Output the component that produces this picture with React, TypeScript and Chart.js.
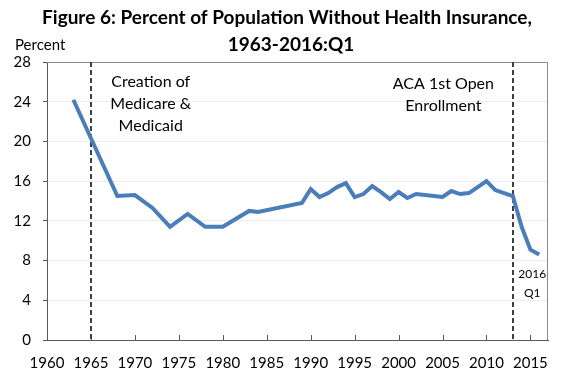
import React, { useEffect, useRef } from 'react';
import { Chart, registerables } from 'chart.js';

Chart.register(...registerables);

const titleLines = ['Figure 6: Percent of Population Without Health Insurance,', '1963-2016:Q1'];
const yAxisTitle = 'Percent';

const years = [1963, 1968, 1970, 1972, 1974, 1976, 1978, 1980, 1983, 1984, 1989, 1990, 1991, 1992, 1993, 1994, 1995, 1996, 1997, 1998, 1999, 2000, 2001, 2002, 2003, 2004, 2005, 2006, 2007, 2008, 2009, 2010, 2011, 2012, 2013, 2014, 2015, 2016];
const uninsured = [24.2, 14.5, 14.6, 13.3, 11.4, 12.7, 11.4, 11.4, 13.0, 12.9, 13.8, 15.2, 14.4, 14.8, 15.4, 15.8, 14.4, 14.7, 15.5, 14.9, 14.2, 14.9, 14.3, 14.7, 14.6, 14.5, 14.4, 15.0, 14.7, 14.8, 15.4, 16.0, 15.1, 14.8, 14.5, 11.4, 9.1, 8.6];

const eventYears = [1965, 2013];
const eventLabels = [
  { lines: ['Creation of', 'Medicare &', 'Medicaid'], year: 1971.8, value: 26.0 },
  { lines: ['ACA 1st Open', 'Enrollment'], year: 2005.1, value: 25.8 },
];
const endLabel = { lines: ['2016', 'Q1'], year: 2015.2, value: 6.65 };

const FONT = 'Lato';

const annotPlugin = {
  id: 'annot',
  beforeDatasetsDraw(chart: any) {
    const { ctx, chartArea: a, scales } = chart;
    const x = scales.x;
    ctx.save();
    // top and right border
    ctx.strokeStyle = '#8a8a8a';
    ctx.lineWidth = 1;
    ctx.beginPath();
    const r = Math.round(a.right) - 0.5;
    const t = Math.round(a.top) + 0.5;
    ctx.moveTo(Math.round(a.left), t);
    ctx.lineTo(r, t);
    ctx.lineTo(r, Math.round(a.bottom));
    ctx.stroke();
    // inward x ticks
    ctx.strokeStyle = '#595959';
    ctx.beginPath();
    x.ticks.forEach((tk: any) => {
      if (tk.value <= x.min) return;
      const px = Math.round(x.getPixelForValue(tk.value)) + 0.5;
      ctx.moveTo(px, a.bottom);
      ctx.lineTo(px, a.bottom - 5);
    });
    ctx.stroke();
    // dashed event lines
    ctx.strokeStyle = '#3f3f3f';
    ctx.lineWidth = 2;
    ctx.setLineDash([5, 3]);
    eventYears.forEach((yr) => {
      const px = Math.round(x.getPixelForValue(yr));
      ctx.beginPath();
      ctx.moveTo(px, a.top);
      ctx.lineTo(px, a.bottom);
      ctx.stroke();
    });
    ctx.restore();
  },
  afterDraw(chart: any) {
    const { ctx, scales } = chart;
    const x = scales.x;
    const y = scales.y;
    ctx.save();
    ctx.fillStyle = '#000';
    ctx.textAlign = 'center';
    ctx.textBaseline = 'middle';
    ctx.font = `bold 19px ${FONT}`;
    ctx.fillText(titleLines[0], 287, 18);
    ctx.fillText(titleLines[1], 291, 45);
    ctx.font = `15px ${FONT}`;
    ctx.textAlign = 'left';
    ctx.fillText(yAxisTitle, 15, 45);
    ctx.textAlign = 'center';
    ctx.font = `16px ${FONT}`;
    eventLabels.forEach((lab) => {
      const px = x.getPixelForValue(lab.year);
      const py = y.getPixelForValue(lab.value);
      lab.lines.forEach((ln, i) => ctx.fillText(ln, px, py + i * 22));
    });
    ctx.font = `12px ${FONT}`;
    const ex = x.getPixelForValue(endLabel.year);
    const ey = y.getPixelForValue(endLabel.value);
    endLabel.lines.forEach((ln, i) => ctx.fillText(ln, ex, ey + i * 19));
    ctx.restore();
  },
};

export default function App() {
  const ref = useRef<HTMLCanvasElement | null>(null);
  useEffect(() => {
    if (!ref.current) return;
    const chart = new Chart(ref.current, {
      type: 'line',
      data: {
        datasets: [
          {
            data: years.map((yr, i) => ({ x: yr, y: uninsured[i] })),
            borderColor: '#4a7ebb',
            borderWidth: 4,
            pointRadius: 0,
            tension: 0,
            fill: false,
          },
        ],
      },
      options: {
        responsive: false,
        animation: false,
        devicePixelRatio: 1,
        layout: { padding: { top: 62, right: 20, bottom: 0, left: 0 } },
        plugins: { legend: { display: false }, tooltip: { enabled: false }, title: { display: false } },
        scales: {
          x: {
            type: 'linear',
            min: 1960,
            max: 2017,
            afterFit: (s: any) => { s.height = 38; },
            ticks: {
              stepSize: 5,
              includeBounds: false,
              autoSkip: false,
              maxRotation: 0,
              padding: 14,
              color: '#000',
              font: { family: FONT, size: 15 },
              callback: (v: any) => String(v),
            },
            grid: { display: true, drawOnChartArea: false, drawTicks: false },
            border: { display: true, color: '#595959', width: 1 },
          },
          y: {
            min: 0,
            max: 28,
            afterFit: (s: any) => { s.width = 47; },
            ticks: {
              stepSize: 4,
              padding: 12,
              color: '#000',
              font: { family: FONT, size: 15 },
            },
            grid: { color: '#ececec', tickLength: 4, tickColor: '#595959' },
            border: { display: true, color: '#595959', width: 1 },
          },
        },
      },
      plugins: [annotPlugin],
    });
    return () => chart.destroy();
  }, []);
  return (
    <div style={{ position: 'fixed', left: 0, top: 0, width: 568, height: 378 }}>
      <canvas ref={ref} width={568} height={378} />
    </div>
  );
}
